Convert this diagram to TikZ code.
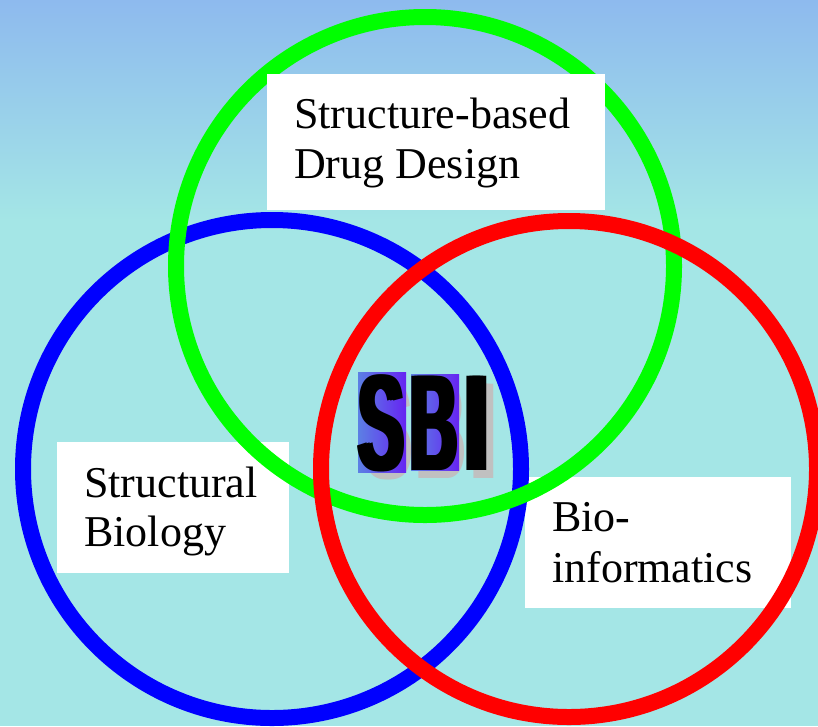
\documentclass[tikz,border=0pt]{standalone}
\usepackage{fontspec}
\setmainfont{Liberation Serif}
\newfontfamily\sbifont{Liberation Sans}
\usepackage{graphicx}
\definecolor{bgtop}{RGB}{142,186,238}
\definecolor{bgbot}{RGB}{164,230,230}
\definecolor{ringgreen}{RGB}{0,255,0}
\definecolor{ringblue}{RGB}{0,0,255}
\definecolor{ringred}{RGB}{255,0,0}
\definecolor{sbiA}{RGB}{92,128,228}
\definecolor{sbiB}{RGB}{102,36,242}
\definecolor{sbishadow}{RGB}{192,192,192}
\newcommand\fatletter[2]{\rlap{\scalebox{#2}[1]{#1}}\kern3pt\rlap{\scalebox{#2}[1]{#1}}\kern3pt\scalebox{#2}[1]{#1}}
\begin{document}
\begin{tikzpicture}[x=1pt,y=-1pt,
  whitebox/.style={rectangle,fill=white,draw=none,inner sep=0pt},
  ring/.style={circle,draw,line width=16pt,inner sep=0pt,minimum size=498pt},
  lbl/.style={inner sep=0pt,anchor=base west,font=\fontsize{44}{50}\selectfont},
  sbiletter/.style={inner sep=0pt,anchor=base west,font=\sbifont\bfseries\fontsize{137}{137}\selectfont},
  sbibox/.style={rectangle,inner sep=0pt,left color=sbiA,right color=sbiB,draw=none}]
\useasboundingbox (0,0) rectangle (818,726);
% background
\shade[top color=bgtop,bottom color=bgbot] (0,0) rectangle (818,221);
\fill[bgbot] (0,220) rectangle (818,726);
% lower label boxes (under the rings)
\node[whitebox,minimum width=232pt,minimum height=131pt] (b2) at (173,507.5) {};
\node[whitebox,minimum width=266pt,minimum height=131pt] (b3) at (658,542.5) {};
% rings
\node[ring,draw=ringblue] (blue) at (272,469) {};
\node[ring,draw=ringgreen] (green) at (425,266) {};
\node[ring,draw=ringred,minimum size=496pt] (red) at (569,469) {};
% top label box (over the green ring)
\node[whitebox,minimum width=338pt,minimum height=136pt] (b1) at (436,142) {};
% labels
\node[lbl] (t1a) at (294,128) {Structure-based};
\node[lbl] (t1b) at (294,178) {Drug Design};
\node[lbl] (t2a) at (84,497) {Structural};
\node[lbl] (t2b) at (84,546) {Biology};
\node[lbl] (t3a) at (552,531) {Bio-};
\node[lbl] (t3b) at (552,582) {informatics};
% SBI logo
\node[sbiletter,text=sbishadow] (Ss) at (362,478) {\fatletter{S}{0.5}};
\node[sbiletter,text=sbishadow] (Bs) at (414,478) {\fatletter{B}{0.475}};
\node[sbiletter,text=sbishadow] (Is) at (467,478) {\fatletter{I}{0.7}};
\node[sbibox,minimum width=48pt,minimum height=100pt] (sbox) at (382,422) {};
\node[sbibox,minimum width=48pt,minimum height=96pt] (bbox) at (435,422) {};
\node[sbiletter,text=black] (S) at (355,470) {\fatletter{S}{0.5}};
\node[sbiletter,text=black] (B) at (407,470) {\fatletter{B}{0.475}};
\node[sbiletter,text=black] (I) at (460,470) {\fatletter{I}{0.7}};
\end{tikzpicture}
\end{document}
